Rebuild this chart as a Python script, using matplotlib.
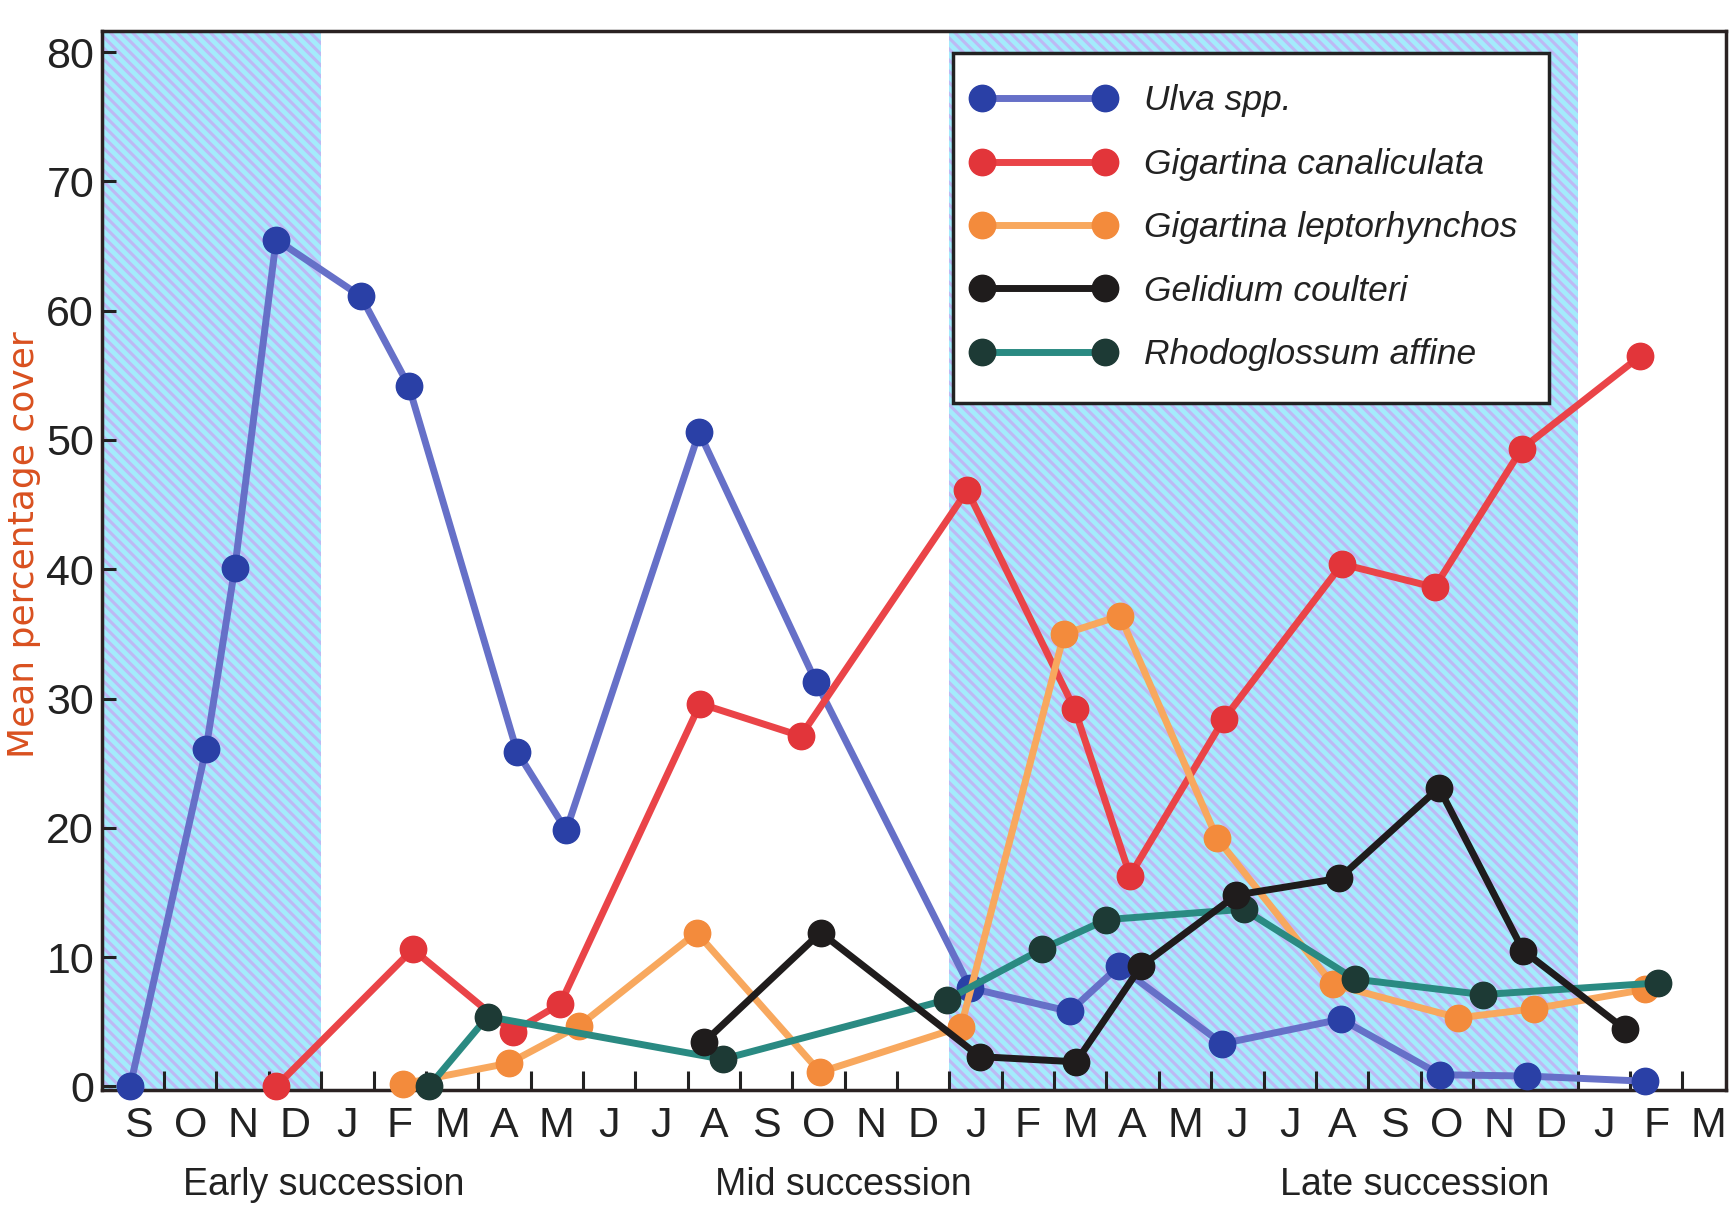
import matplotlib
matplotlib.use("Agg")
import matplotlib.pyplot as plt
from matplotlib import font_manager as fm
from matplotlib.transforms import blended_transform_factory
from matplotlib.legend_handler import HandlerLine2D
from matplotlib.lines import Line2D

# ---------------- data ----------------
months = ['S', 'O', 'N', 'D', 'J', 'F', 'M', 'A', 'M', 'J', 'J', 'A', 'S', 'O', 'N', 'D',
          'J', 'F', 'M', 'A', 'M', 'J', 'J', 'A', 'S', 'O', 'N', 'D', 'J', 'F', 'M']

# sampling times (month index, S of first year = 0) and mean % cover
ulva_t = [-0.15, 1.30, 1.85, 2.64, 4.26, 5.17, 7.24, 8.18, 10.72, 12.95, 15.90, 17.80,
          18.74, 20.71, 22.98, 24.88, 26.53, 28.79]
ulva_v = [0.0, 26.1, 40.1, 65.5, 61.1, 54.2, 25.9, 19.8, 50.6, 31.3, 7.6, 5.8,
          9.3, 3.3, 5.2, 0.9, 0.8, 0.4]

gcan_t = [2.64, 5.25, 7.16, 8.07, 10.74, 12.66, 15.84, 17.89, 18.95, 20.74, 23.00,
          24.77, 26.43, 28.70]
gcan_v = [0.0, 10.6, 4.2, 6.4, 29.6, 27.1, 46.1, 29.2, 16.3, 28.4, 40.4, 38.6, 49.3, 56.5]

glep_t = [5.07, 7.09, 8.43, 10.67, 13.03, 15.72, 17.69, 18.76, 20.61, 22.82, 25.22,
          26.66, 28.78]
glep_v = [0.2, 1.8, 4.7, 11.9, 1.1, 4.6, 35.0, 36.4, 19.2, 7.9, 5.3, 6.0, 7.5]

gel_t = [10.81, 13.04, 16.08, 17.92, 19.16, 20.98, 22.95, 24.85, 26.46, 28.41]
gel_v = [3.4, 11.9, 2.3, 1.9, 9.3, 14.8, 16.1, 23.1, 10.5, 4.4]

rho_t = [5.56, 6.68, 11.17, 15.45, 17.26, 18.50, 21.12, 23.24, 25.69, 29.03]
rho_v = [0.0, 5.4, 2.1, 6.7, 10.6, 12.9, 13.7, 8.3, 7.1, 8.0]

species = ['Ulva spp.', 'Gigartina canaliculata', 'Gigartina leptorhynchos',
           'Gelidium coulteri', 'Rhodoglossum affine']

stage_labels = ['Early succession', 'Mid succession', 'Late succession']
stage_pos = [3.55, 13.47, 24.38]
shaded_periods = [(-0.7, 3.5), (15.5, 27.5)]

# ---------------- fonts ----------------
names = {f.name for f in fm.fontManager.ttflist}
narrow = 'Liberation Sans Narrow' if 'Liberation Sans Narrow' in names else 'Liberation Sans'

plt.rcParams['hatch.linewidth'] = 2.2

fig = plt.figure(figsize=(17.35, 12.08), dpi=100)
ax = fig.add_axes([0.059, 0.098, 0.936, 0.876])

# shaded succession blocks
for a, b in shaded_periods:
    ax.axvspan(a, b, facecolor='#a4ebfc', edgecolor='#bdb9f4', hatch='\\\\\\',
               linewidth=0, zorder=0)

styles = [
    (ulva_t, ulva_v, '#6670c8', '#2a40a6'),
    (gcan_t, gcan_v, '#ea4448', '#e2353a'),
    (glep_t, glep_v, '#f8a85e', '#f38b3c'),
    (gel_t, gel_v, '#1f1c1c', '#1f1c1c'),
    (rho_t, rho_v, '#2a8a82', '#1d3a35'),
]
zorders = [3, 4, 5, 7, 6]
for (t, v, lc, mc), name, z in zip(styles, species, zorders):
    ax.plot(t, v, '-o', color=lc, lw=5, ms=19, mfc=mc, mec=mc, label=name,
            zorder=z, clip_on=False)

ax.set_xlim(-0.68, 30.34)
ax.set_ylim(-0.25, 81.6)

ax.set_xticks(range(len(months)))
ax.set_xticklabels(months, fontsize=31, family=narrow, color='#222222')
ax.set_xticks([i + 0.5 for i in range(30)], minor=True)
ax.tick_params(axis='x', which='major', length=0, pad=12)
ax.tick_params(axis='x', which='minor', direction='in', length=14, width=2.2,
               color='#222222')

ax.set_yticks(range(0, 81, 10))
ax.set_yticklabels([str(v) for v in range(0, 81, 10)], fontsize=31, family=narrow,
                   color='#222222')
ax.tick_params(axis='y', direction='in', length=10, width=2.2, color='#222222', pad=6)

for s in ax.spines.values():
    s.set_linewidth(2.5)
    s.set_color('#2a2222')

ax.set_ylabel('Mean percentage cover', fontsize=26, color='#d9501f',
              family='DejaVu Sans')
ax.yaxis.set_label_coords(-0.038, 0.515)

trans = blended_transform_factory(ax.transData, ax.transAxes)
for lab, pos in zip(stage_labels, stage_pos):
    ax.text(pos, -0.09, lab, transform=trans, ha='center', va='center',
            fontsize=27, family=narrow, color='#222222')

leg = ax.legend(loc='upper left', bbox_to_anchor=(0.524, 0.980), borderaxespad=0,
                numpoints=2, handlelength=3.27, handletextpad=1.2, labelspacing=0.86,
                borderpad=0.9, fancybox=False, framealpha=1, edgecolor='#222222',
                handler_map={Line2D: HandlerLine2D(marker_pad=-0.1)},
                prop={'family': narrow, 'style': 'italic', 'size': 25.5})
leg.get_frame().set_linewidth(2.5)
for txt in leg.get_texts():
    txt.set_color('#222222')

fig.savefig('out.png', dpi=100, facecolor='white')
